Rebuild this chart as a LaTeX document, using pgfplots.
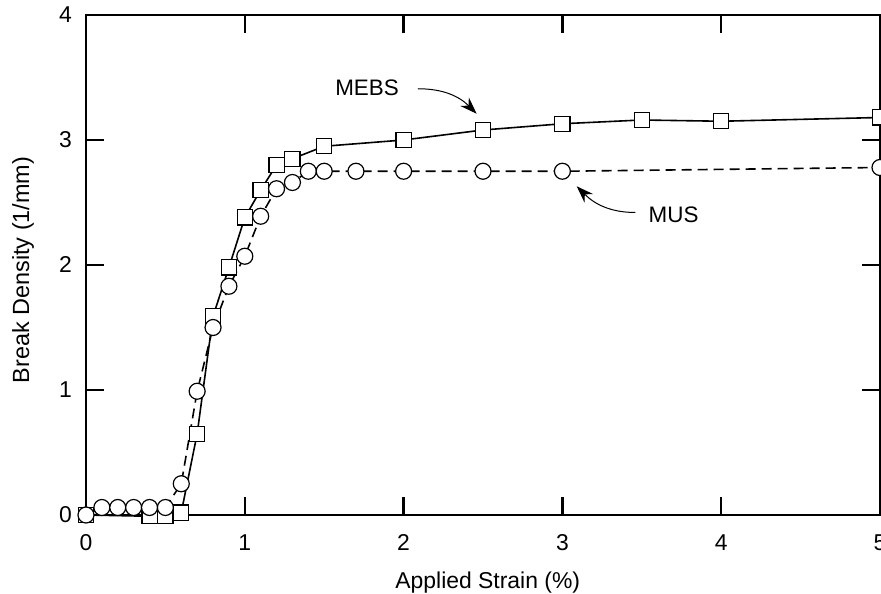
\documentclass[border=0pt]{standalone}
\usepackage{fontspec}
\setmainfont{Liberation Sans}
\usepackage{pgfplots}
\pgfplotsset{compat=1.18}
\usetikzlibrary{arrows.meta}

\begin{document}
\begin{tikzpicture}[x=1bp,y=1bp]
\begin{axis}[
  name=ax,
  scale only axis,
  width=794bp, height=500bp,
  xmin=0, xmax=5, ymin=0, ymax=4,
  xtick={0,1,2,3,4,5}, ytick={0,1,2,3,4},
  minor tick num=0,
  tick align=inside,
  major tick length=18bp,
  axis line style={line width=2.4bp},
  every tick/.style={line width=2.4bp, black},
  /pgf/number format/assume math mode=true,
  tick label style={font=\fontsize{23}{27}\selectfont},
  xticklabel style={anchor=base, yshift=-35bp},
  yticklabel style={anchor=east, inner sep=0pt, xshift=-14bp},
  every axis x label/.style={at={(axis description cs:0.506,0)}, anchor=base, yshift=-73bp, font=\fontsize{23}{27}\selectfont},
  every axis y label/.style={at={(axis description cs:-0.0794,0.49)}, rotate=90, anchor=center, font=\fontsize{23.5}{27}\selectfont},
  xlabel={Applied Strain (\%)},
  ylabel={Break Density (1/mm)},
  clip=false,
]
% MEBS
\addplot[black, line width=1.6bp, mark=square*, mark size=7.6bp,
  mark options={solid, fill=white, draw=black, line width=1.2bp}]
  coordinates {
  (0,0) (0.4,-0.01) (0.5,-0.01) (0.6,0.02) (0.7,0.65) (0.8,1.59)
  (0.9,1.98) (1.0,2.38) (1.1,2.60) (1.2,2.80) (1.3,2.85) (1.5,2.95)
  (2.0,3.00) (2.5,3.08) (3.0,3.13) (3.5,3.16) (4.0,3.15) (5.0,3.18)
  };
% MUS
\addplot[black, line width=1.6bp, dash pattern=on 10bp off 6bp, mark=*, mark size=8bp,
  mark options={solid, fill=white, draw=black, line width=1.2bp}]
  coordinates {
  (0,0) (0.1,0.06) (0.2,0.06) (0.3,0.06) (0.4,0.06) (0.5,0.06)
  (0.6,0.25) (0.7,0.99) (0.8,1.50) (0.9,1.83) (1.0,2.07) (1.1,2.39)
  (1.2,2.61) (1.3,2.66) (1.4,2.75) (1.5,2.75) (1.7,2.75) (2.0,2.75)
  (2.5,2.75) (3.0,2.75) (5.0,2.78)
  };
\node[font=\fontsize{22.5}{26}\selectfont] at (axis cs:1.77,3.42) {MEBS};
\draw[line width=1bp, -{Stealth[length=17bp,width=12bp]}]
  (axis cs:2.09,3.41) to[out=0, in=135] (axis cs:2.46,3.21);
\node[font=\fontsize{22.5}{26}\selectfont] at (axis cs:3.70,2.40) {MUS};
\draw[line width=1bp, -{Stealth[length=17bp,width=12bp]}]
  (axis cs:3.46,2.42) to[out=180, in=-45] (axis cs:3.09,2.63);
\end{axis}
\pgfresetboundingbox
\path[use as bounding box] ([xshift=-86bp,yshift=-79bp]ax.south west) rectangle ([xshift=1bp,yshift=15bp]ax.north east);
\end{tikzpicture}
\end{document}
